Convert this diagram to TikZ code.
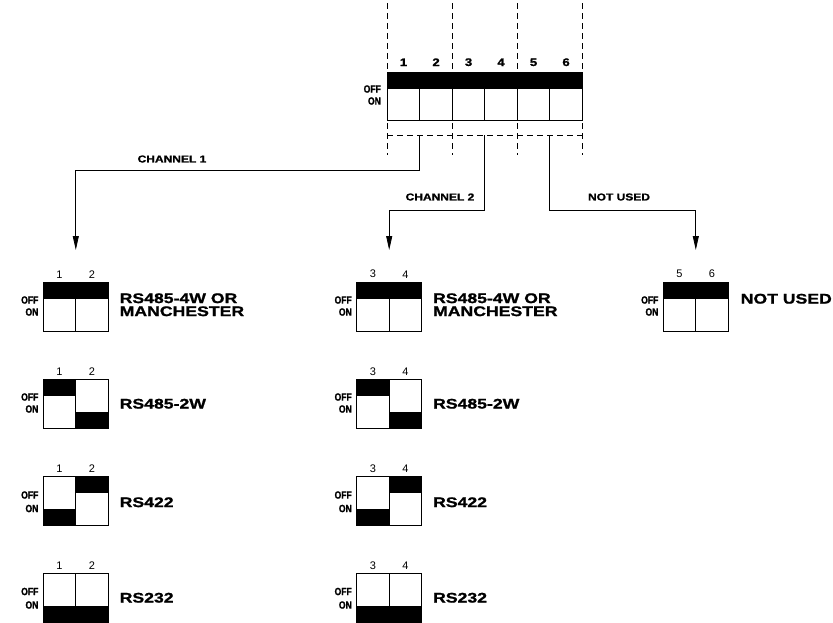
\documentclass[tikz,border=0pt]{standalone}
\usepackage{fontspec}
\setmainfont{Liberation Sans}
\newfontfamily\widefont[FakeStretch=1.26,FakeBold=1.2]{Liberation Sans}
\newfontfamily\tagfont[FakeStretch=1.2,FakeBold=1.2]{Liberation Sans}
\newfontfamily\slimfont[FakeStretch=0.82,FakeBold=1.5]{Liberation Sans}
\usepackage{tikz}
\usetikzlibrary{positioning}
\usetikzlibrary{arrows.meta}
\tikzset{
	cell/.style={rectangle,draw,line width=0.8pt,minimum width=32.5pt,minimum height=48.5pt,
		inner sep=0pt,outer sep=0pt,anchor=north west},
	swoff/.style={cell,path picture={\fill (path picture bounding box.north west) rectangle ([yshift=-16.5pt]path picture bounding box.north east);}},
	swon/.style={cell,path picture={\fill (path picture bounding box.south west) rectangle ([yshift=16.5pt]path picture bounding box.south east);}},
	swnum/.style={inner sep=0pt,font=\fontsize{11}{11}\selectfont},
	topnum/.style={inner sep=0pt,font=\tagfont\fontsize{11}{11}\selectfont\bfseries},
	swstate/.style={inner sep=0pt,anchor=east,font=\slimfont\fontsize{10.5}{10.5}\selectfont\bfseries},
	modetext/.style={inner sep=0pt,anchor=west,align=left,font=\widefont\fontsize{14}{13}\selectfont\bfseries},
	chan/.style={inner sep=0pt,font=\tagfont\fontsize{10}{10}\selectfont\bfseries},
	guide/.style={dash pattern=on 6pt off 4pt,line width=0.6pt}
}

\begin{document}
\begin{tikzpicture}[x=1pt,y=-1pt,line width=0.8pt,->,>={Triangle[length=14pt,width=6pt]}]
	\useasboundingbox (0,0) rectangle (833,622);

	% main switch
	\node[swoff] (s1) at (387.3,72) {};
	\node[swoff] (s2) [right=0pt of s1] {};
	\node[swoff] (s3) [right=0pt of s2] {};
	\node[swoff] (s4) [right=0pt of s3] {};
	\node[swoff] (s5) [right=0pt of s4] {};
	\node[swoff] (s6) [right=0pt of s5] {};
	\node[topnum] (ns1) [above=5.5pt of s1] {1};
	\node[topnum] (ns2) [above=5.5pt of s2] {2};
	\node[topnum] (ns3) [above=5.5pt of s3] {3};
	\node[topnum] (ns4) [above=5.5pt of s4] {4};
	\node[topnum] (ns5) [above=5.5pt of s5] {5};
	\node[topnum] (ns6) [above=5.5pt of s6] {6};
	\node[swstate] (offs) at ([xshift=-6pt,yshift=-17pt]s1.north west) {OFF};
	\node[swstate] (ons)  at ([xshift=-6pt,yshift=-29pt]s1.north west) {ON};

	\draw[guide,-] ([yshift=69pt]s1.north west) -- ([yshift=-34.5pt]s1.south west);
	\draw[guide,-] ([yshift=69pt]s2.north east) -- ([yshift=-34.5pt]s2.south east);
	\draw[guide,-] ([yshift=69pt]s4.north east) -- ([yshift=-34.5pt]s4.south east);
	\draw[guide,-] ([yshift=69pt]s6.north east) -- ([yshift=-34.5pt]s6.south east);
	\draw[guide,-] ([yshift=-14.5pt]s1.south west) -- ([yshift=-14.5pt]s6.south east);

	% channel 1
	\node[swoff] (a1l) at (43.3,282.5) {};
	\node[swoff] (a1r) [right=0pt of a1l] {};
	\node[swoff] (a2l) [below=48.5pt of a1l] {};
	\node[swon]  (a2r) [right=0pt of a2l] {};
	\node[swon]  (a3l) [below=48.5pt of a2l] {};
	\node[swoff] (a3r) [right=0pt of a3l] {};
	\node[swon]  (a4l) [below=48.5pt of a3l] {};
	\node[swon]  (a4r) [right=0pt of a4l] {};

	% channel 2
	\node[swoff] (b1l) at (356.7,282.5) {};
	\node[swoff] (b1r) [right=0pt of b1l] {};
	\node[swoff] (b2l) [below=48.5pt of b1l] {};
	\node[swon]  (b2r) [right=0pt of b2l] {};
	\node[swon]  (b3l) [below=48.5pt of b2l] {};
	\node[swoff] (b3r) [right=0pt of b3l] {};
	\node[swon]  (b4l) [below=48.5pt of b3l] {};
	\node[swon]  (b4r) [right=0pt of b4l] {};

	% not used
	\node[swoff] (c1l) at (663.3,282.5) {};
	\node[swoff] (c1r) [right=0pt of c1l] {};

	\node[swnum] (na1l) [above=4pt of a1l] {1};
	\node[swnum] (na1r) [above=4pt of a1r] {2};
	\node[swnum] (na2l) [above=4pt of a2l] {1};
	\node[swnum] (na2r) [above=4pt of a2r] {2};
	\node[swnum] (na3l) [above=4pt of a3l] {1};
	\node[swnum] (na3r) [above=4pt of a3r] {2};
	\node[swnum] (na4l) [above=4pt of a4l] {1};
	\node[swnum] (na4r) [above=4pt of a4r] {2};
	\node[swnum] (nb1l) [above=4pt of b1l] {3};
	\node[swnum] (nb1r) [above=4pt of b1r] {4};
	\node[swnum] (nb2l) [above=4pt of b2l] {3};
	\node[swnum] (nb2r) [above=4pt of b2r] {4};
	\node[swnum] (nb3l) [above=4pt of b3l] {3};
	\node[swnum] (nb3r) [above=4pt of b3r] {4};
	\node[swnum] (nb4l) [above=4pt of b4l] {3};
	\node[swnum] (nb4r) [above=4pt of b4r] {4};
	\node[swnum] (nc1l) [above=4pt of c1l] {5};
	\node[swnum] (nc1r) [above=4pt of c1r] {6};

	\node[swstate] (offa1) at ([xshift=-4.5pt,yshift=-17.5pt]a1l.north west) {OFF};
	\node[swstate] (ona1)  at ([xshift=-4.5pt,yshift=-29.5pt]a1l.north west) {ON};
	\node[swstate] (offa2) at ([xshift=-4.5pt,yshift=-17.5pt]a2l.north west) {OFF};
	\node[swstate] (ona2)  at ([xshift=-4.5pt,yshift=-29.5pt]a2l.north west) {ON};
	\node[swstate] (offa3) at ([xshift=-4.5pt,yshift=-18.5pt]a3l.north west) {OFF};
	\node[swstate] (ona3)  at ([xshift=-4.5pt,yshift=-32pt]a3l.north west) {ON};
	\node[swstate] (offa4) at ([xshift=-4.5pt,yshift=-18pt]a4l.north west) {OFF};
	\node[swstate] (ona4)  at ([xshift=-4.5pt,yshift=-31.5pt]a4l.north west) {ON};
	\node[swstate] (offb1) at ([xshift=-4.5pt,yshift=-17.5pt]b1l.north west) {OFF};
	\node[swstate] (onb1)  at ([xshift=-4.5pt,yshift=-29.5pt]b1l.north west) {ON};
	\node[swstate] (offb2) at ([xshift=-4.5pt,yshift=-17.5pt]b2l.north west) {OFF};
	\node[swstate] (onb2)  at ([xshift=-4.5pt,yshift=-29.5pt]b2l.north west) {ON};
	\node[swstate] (offb3) at ([xshift=-4.5pt,yshift=-18.5pt]b3l.north west) {OFF};
	\node[swstate] (onb3)  at ([xshift=-4.5pt,yshift=-32pt]b3l.north west) {ON};
	\node[swstate] (offb4) at ([xshift=-4.5pt,yshift=-18pt]b4l.north west) {OFF};
	\node[swstate] (onb4)  at ([xshift=-4.5pt,yshift=-31.5pt]b4l.north west) {ON};
	\node[swstate] (offc1) at ([xshift=-4.5pt,yshift=-17.5pt]c1l.north west) {OFF};
	\node[swstate] (onc1)  at ([xshift=-4.5pt,yshift=-29.5pt]c1l.north west) {ON};

	\node[modetext] (ma1) at ([xshift=11pt,yshift=2pt]a1r.east) {RS485-4W OR\\MANCHESTER};
	\node[modetext] (ma2) at ([xshift=11pt]a2r.east) {RS485-2W};
	\node[modetext] (ma3) at ([xshift=11pt,yshift=-1.5pt]a3r.east) {RS422};
	\node[modetext] (ma4) at ([xshift=11pt]a4r.east) {RS232};
	\node[modetext] (mb1) at ([xshift=11pt,yshift=2pt]b1r.east) {RS485-4W OR\\MANCHESTER};
	\node[modetext] (mb2) at ([xshift=11pt]b2r.east) {RS485-2W};
	\node[modetext] (mb3) at ([xshift=11pt,yshift=-1.5pt]b3r.east) {RS422};
	\node[modetext] (mb4) at ([xshift=11pt]b4r.east) {RS232};
	\node[modetext] (mc1) at ([xshift=12pt,yshift=8pt]c1r.east) {NOT USED};

	% connectors
	\coordinate (g1) at ([yshift=-14.5pt]s1.south east);
	\coordinate (g2) at ([yshift=-14.5pt]s3.south east);
	\coordinate (g3) at ([yshift=-14.5pt]s5.south east);
	\coordinate (t1) at ([yshift=32.5pt]a1l.north east);
	\coordinate (t2) at ([yshift=32.5pt]b1l.north east);
	\coordinate (t3) at ([yshift=32.5pt]c1l.north east);

	\draw (g1) -- ++(0,35) -| (t1);
	\draw (g2) -- ++(0,75) -| (t2);
	\draw (g3) -- ++(0,75) -| (t3);

	\node[chan] (ch1) at (172,159) {CHANNEL 1};
	\node[chan] (ch2) at (440,197) {CHANNEL 2};
	\node[chan] (ch3) at (619,197) {NOT USED};
\end{tikzpicture}
\end{document}
